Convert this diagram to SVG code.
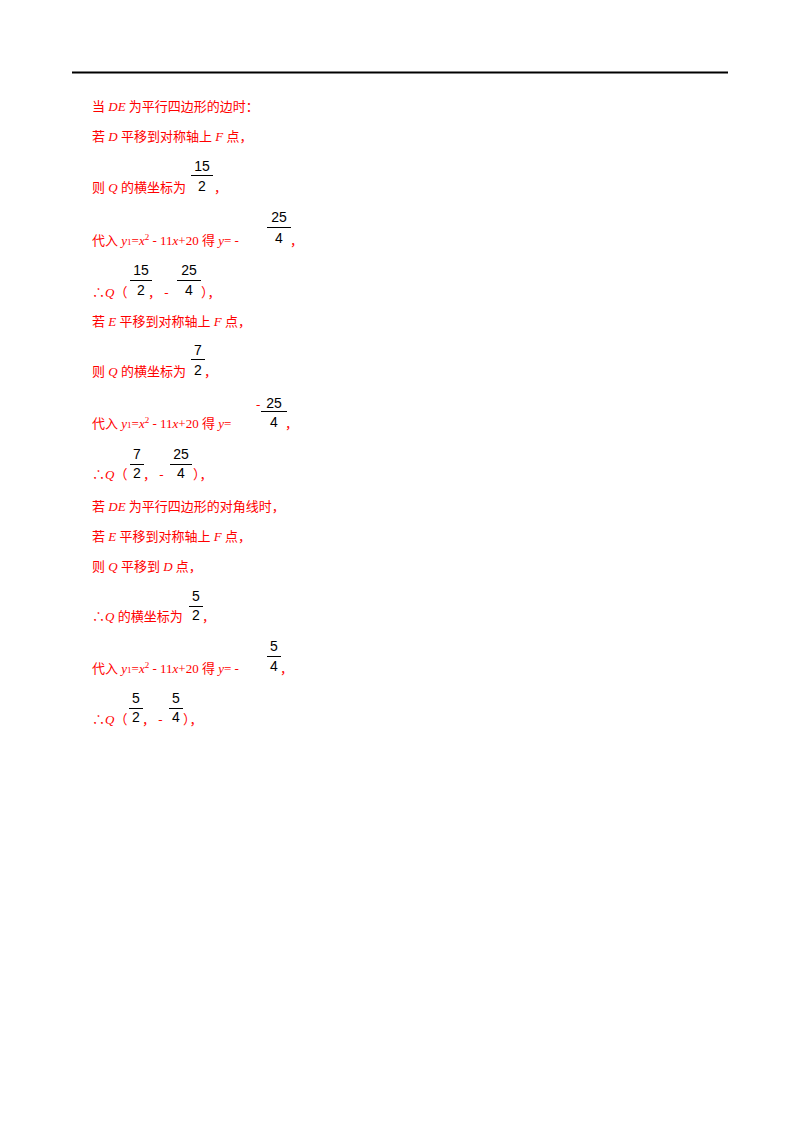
<svg xmlns="http://www.w3.org/2000/svg" width="800" height="1132" viewBox="0 0 800 1132">
<style>
.r{font-family:"Liberation Serif","Noto Sans CJK SC",serif;font-size:13px;fill:#ff0000}
.i{font-style:italic}
.f{font-family:"Liberation Sans","DejaVu Sans",sans-serif;font-size:14px;fill:#000;text-anchor:middle}
.b{stroke:#000;stroke-width:1}
</style>
<rect width="800" height="1132" fill="#fff"/>
<line x1="72" y1="72.5" x2="728" y2="72.5" stroke="#000" stroke-width="2"/>
<g id="l1"><text class="r" x="92" y="111">当 <tspan class="i">DE</tspan> 为平行四边形的边时：</text></g>
<g id="l2"><text class="r" x="92" y="141">若 <tspan class="i">D</tspan> 平移到对称轴上 <tspan class="i">F</tspan> 点，</text></g>
<g id="l3"><text class="r" x="92" y="192">则 <tspan class="i">Q</tspan> 的横坐标为</text>
<text class="f" x="202" y="171">15</text><line class="b" x1="191" y1="175.5" x2="213" y2="175.5"/><text class="f" x="202" y="191">2</text>
<text class="r" x="214" y="192">，</text></g>
<g id="l4"><text class="r" x="92" y="245">代入 <tspan class="i">y</tspan><tspan font-size="9">1</tspan>=<tspan class="i">x</tspan><tspan font-size="9" dy="-5">2</tspan><tspan dy="5"> - 11</tspan><tspan class="i">x</tspan>+20 得 <tspan class="i">y</tspan>= -</text>
<text class="f" x="279" y="222">25</text><line class="b" x1="267" y1="227.5" x2="291" y2="227.5"/><text class="f" x="279" y="243">4</text>
<text class="r" x="290" y="245">，</text></g>
<g id="l5"><text class="r" x="92" y="297">∴<tspan class="i">Q</tspan>（</text>
<text class="f" x="141" y="275">15</text><line class="b" x1="130" y1="280.5" x2="152" y2="280.5"/><text class="f" x="141" y="295">2</text>
<text class="r" x="148" y="297">，  -</text>
<text class="f" x="189" y="275">25</text><line class="b" x1="177" y1="280.5" x2="201" y2="280.5"/><text class="f" x="189" y="295">4</text>
<text class="r" x="201" y="297">），</text></g>
<g id="l6"><text class="r" x="92" y="326">若 <tspan class="i">E</tspan> 平移到对称轴上 <tspan class="i">F</tspan> 点，</text></g>
<g id="l7"><text class="r" x="92" y="376">则 <tspan class="i">Q</tspan> 的横坐标为</text>
<text class="f" x="198" y="355">7</text><line class="b" x1="191" y1="359.5" x2="205" y2="359.5"/><text class="f" x="198" y="375">2</text>
<text class="r" x="204" y="376">，</text></g>
<g id="l8"><text class="r" x="92" y="428">代入 <tspan class="i">y</tspan><tspan font-size="9">1</tspan>=<tspan class="i">x</tspan><tspan font-size="9" dy="-5">2</tspan><tspan dy="5"> - 11</tspan><tspan class="i">x</tspan>+20 得 <tspan class="i">y</tspan>=</text>
<text class="r" x="256" y="409">-</text>
<text class="f" x="274" y="408">25</text><line class="b" x1="261" y1="411.5" x2="287" y2="411.5"/><text class="f" x="274" y="427">4</text>
<text class="r" x="285" y="428">，</text></g>
<g id="l9"><text class="r" x="92" y="479">∴<tspan class="i">Q</tspan>（</text>
<text class="f" x="137" y="459">7</text><line class="b" x1="130" y1="464.5" x2="144" y2="464.5"/><text class="f" x="137" y="478">2</text>
<text class="r" x="143" y="479">，  -</text>
<text class="f" x="181" y="459">25</text><line class="b" x1="170" y1="464.5" x2="192" y2="464.5"/><text class="f" x="181" y="478">4</text>
<text class="r" x="193" y="479">），</text></g>
<g id="l10"><text class="r" x="92" y="511">若 <tspan class="i">DE</tspan> 为平行四边形的对角线时，</text></g>
<g id="l11"><text class="r" x="92" y="541">若 <tspan class="i">E</tspan> 平移到对称轴上 <tspan class="i">F</tspan> 点，</text></g>
<g id="l12"><text class="r" x="92" y="571">则 <tspan class="i">Q</tspan> 平移到 <tspan class="i">D</tspan> 点，</text></g>
<g id="l13"><text class="r" x="92" y="621">∴<tspan class="i">Q</tspan> 的横坐标为</text>
<text class="f" x="196" y="601">5</text><line class="b" x1="189" y1="606.5" x2="203" y2="606.5"/><text class="f" x="196" y="620">2</text>
<text class="r" x="202" y="621">，</text></g>
<g id="l14"><text class="r" x="92" y="673">代入 <tspan class="i">y</tspan><tspan font-size="9">1</tspan>=<tspan class="i">x</tspan><tspan font-size="9" dy="-5">2</tspan><tspan dy="5"> - 11</tspan><tspan class="i">x</tspan>+20 得 <tspan class="i">y</tspan>= -</text>
<text class="f" x="274" y="651">5</text><line class="b" x1="267" y1="656.5" x2="281" y2="656.5"/><text class="f" x="274" y="671">4</text>
<text class="r" x="280" y="673">，</text></g>
<g id="l15"><text class="r" x="92" y="724">∴<tspan class="i">Q</tspan>（</text>
<text class="f" x="136" y="703">5</text><line class="b" x1="129" y1="708.5" x2="143" y2="708.5"/><text class="f" x="136" y="722">2</text>
<text class="r" x="142" y="724">，  -</text>
<text class="f" x="176" y="703">5</text><line class="b" x1="169" y1="708.5" x2="183" y2="708.5"/><text class="f" x="176" y="722">4</text>
<text class="r" x="183" y="724">），</text></g>
</svg>
